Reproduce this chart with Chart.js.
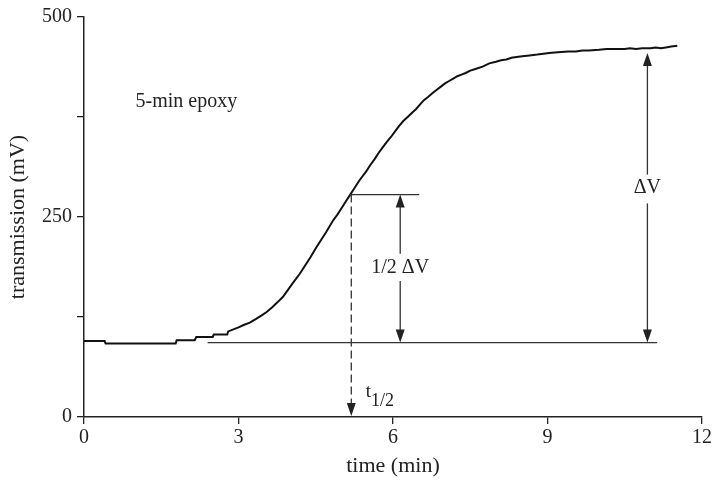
<!DOCTYPE html>
<html>
<head>
<meta charset="utf-8">
<script src="https://cdn.jsdelivr.net/npm/chart.js@4"></script>
<style>
  html, body { margin: 0; padding: 0; background: #fff; }
</style>
</head>
<body>
<canvas id="epoxy-curve" width="714" height="485"></canvas>
<script>
// time (min) and transmission (mV)
const timeMin = [
    0.00, 0.40, 0.42, 1.00, 1.78, 1.80, 2.15, 2.18, 2.50, 2.52,
    2.78, 2.80, 3.00, 3.10, 3.22, 3.35, 3.45, 3.54, 3.65, 3.75,
    3.86, 3.95, 4.05, 4.19, 4.30, 4.40, 4.51, 4.60, 4.70, 4.83,
    4.92, 5.00, 5.08, 5.16, 5.25, 5.35, 5.48, 5.56, 5.64, 5.72,
    5.80, 5.88, 5.96, 6.04, 6.12, 6.20, 6.30, 6.38, 6.45, 6.53,
    6.60, 6.68, 6.77, 6.85, 6.93, 7.01, 7.09, 7.17, 7.25, 7.33,
    7.41, 7.50, 7.60, 7.74, 7.87, 8.00, 8.10, 8.20, 8.30, 8.40,
    8.51, 8.65, 8.80, 8.92, 9.03, 9.20, 9.40, 9.55, 9.68, 9.80,
    10.00, 10.15, 10.32, 10.50, 10.60, 10.72, 10.84, 11.00, 11.10, 11.20,
    11.30, 11.40, 11.52
];
const transmission = [
    95, 95, 92, 92, 92, 96, 96, 100, 100, 103,
    103, 107, 112, 115, 118, 123, 127, 131, 137, 143,
    150, 158, 167, 179, 190, 200, 212, 221, 231, 245,
    253, 261, 269, 277, 286, 296, 307, 315, 322, 330,
    337, 344, 350, 357, 364, 370, 376, 381, 385, 391,
    396, 400, 405, 409, 413, 417, 420, 423, 426, 428,
    430, 433, 435, 438, 442, 444, 446, 447, 449, 450,
    451, 452, 453, 454, 455, 456, 457, 457, 458, 458,
    459, 460, 460, 460, 461, 460, 461, 461, 462, 461,
    462, 463, 464
];
const xTicks = [0, 3, 6, 9, 12];
const yTickLabels = [0, 250, 500];

// annotation positions, in data units
const baseLevel = 93;
const halfLevel = 278;
const dvTop = 455;
const tHalf = 5.19;
const baseLineFrom = 2.4;
const baseLineTo = 11.13;
const halfLineTo = 6.51;
const halfArrowX = 6.14;
const dvArrowX = 10.94;

const serif = "'Liberation Serif', 'Times New Roman', serif";

function arrowHead(ctx, x, y, dir) {
    // dir 1 = points down, -1 = points up
    ctx.beginPath();
    ctx.moveTo(x, y);
    ctx.lineTo(x - 4.5, y - dir * 13);
    ctx.lineTo(x + 4.5, y - dir * 13);
    ctx.closePath();
    ctx.fill();
}

function line(ctx, x1, y1, x2, y2) {
    ctx.beginPath();
    ctx.moveTo(x1, y1);
    ctx.lineTo(x2, y2);
    ctx.stroke();
}

const annotations = {
    id: "annotations",
    afterDatasetsDraw(chart) {
        const ctx = chart.ctx;
        const xs = chart.scales.x;
        const ys = chart.scales.y;
        const px = v => xs.getPixelForValue(v);
        const py = v => ys.getPixelForValue(v);

        ctx.save();
        ctx.strokeStyle = "#333";
        ctx.fillStyle = "#222";
        ctx.lineWidth = 1.3;

        // baseline and half level
        line(ctx, px(baseLineFrom), py(baseLevel), px(baseLineTo), py(baseLevel));
        line(ctx, px(tHalf) - 2, py(halfLevel), px(halfLineTo), py(halfLevel));

        // dashed drop to the time axis
        ctx.setLineDash([8, 4]);
        line(ctx, px(tHalf), py(halfLevel), px(tHalf), py(0) - 12);
        ctx.setLineDash([]);
        arrowHead(ctx, px(tHalf), py(0) - 1, 1);

        // 1/2 dV arrow
        line(ctx, px(halfArrowX), py(halfLevel) + 10, px(halfArrowX), py(204));
        line(ctx, px(halfArrowX), py(170), px(halfArrowX), py(baseLevel) - 10);
        arrowHead(ctx, px(halfArrowX), py(halfLevel), -1);
        arrowHead(ctx, px(halfArrowX), py(baseLevel), 1);

        // dV arrow
        line(ctx, px(dvArrowX), py(dvTop) + 10, px(dvArrowX), py(303));
        line(ctx, px(dvArrowX), py(267), px(dvArrowX), py(baseLevel) - 10);
        arrowHead(ctx, px(dvArrowX), py(dvTop), -1);
        arrowHead(ctx, px(dvArrowX), py(baseLevel), 1);

        // texts
        ctx.font = "20px " + serif;
        ctx.textBaseline = "middle";
        ctx.textAlign = "center";
        ctx.fillText("1/2 \u0394V", px(halfArrowX), py(186));
        ctx.fillText("\u0394V", px(dvArrowX), py(286));
        ctx.textAlign = "left";
        ctx.fillText("5-min epoxy", px(1.0), py(394));

        ctx.textBaseline = "alphabetic";
        ctx.font = "19px " + serif;
        const tx = px(5.47);
        ctx.fillText("t", tx, py(25));
        const tw = ctx.measureText("t").width;
        ctx.font = "18px " + serif;
        ctx.fillText("1/2", tx + tw, py(13.5));
        ctx.restore();
    }
};

const dataEpoxy = {
    datasets: [
        {
            data: timeMin.map((t, i) => ({ x: t, y: transmission[i] })),
            borderColor: "#111",
            borderWidth: 2,
            pointRadius: 0,
            tension: 0,
            fill: false,
        },
    ],
};

const configEpoxy = {
    type: "line",
    data: dataEpoxy,
    options: {
        responsive: false,
        animation: false,
        layout: {
            padding: { left: 0, right: 11, top: 16, bottom: 0 },
        },
        scales: {
            x: {
                type: "linear",
                min: 0,
                max: 12,
                afterBuildTicks: scale => {
                    scale.ticks = xTicks.map(v => ({ value: v }));
                },
                afterFit: scale => {
                    scale.height = 68;
                },
                ticks: {
                    color: "#222",
                    font: { family: serif, size: 20 },
                    padding: 2,
                    maxRotation: 0,
                },
                grid: {
                    drawOnChartArea: false,
                    drawTicks: true,
                    tickLength: 7,
                    color: "#222",
                    lineWidth: 1.3,
                },
                border: { display: true, color: "#222", width: 1.5 },
                title: {
                    display: true,
                    text: "time (min)",
                    color: "#222",
                    font: { family: serif, size: 22 },
                    padding: { top: 0, bottom: 6 },
                },
            },
            y: {
                min: 0,
                max: 500,
                ticks: {
                    stepSize: 125,
                    color: "#222",
                    font: { family: serif, size: 20 },
                    padding: 5,
                    callback: function (value) {
                        // only 0, 250 and 500 carry a label
                        return yTickLabels.includes(value) ? value : "";
                    },
                },
                afterFit: scale => {
                    scale.width = 84;
                },
                grid: {
                    drawOnChartArea: false,
                    drawTicks: true,
                    tickLength: 7,
                    color: "#222",
                    lineWidth: 1.3,
                },
                border: { display: true, color: "#222", width: 1.5 },
                title: {
                    display: true,
                    text: "transmission (mV)",
                    color: "#222",
                    font: { family: serif, size: 22 },
                    padding: { top: 5, bottom: 0 },
                },
            },
        },
        plugins: {
            legend: { display: false },
            tooltip: { enabled: false },
        },
    },
    plugins: [annotations],
};

new Chart(document.getElementById("epoxy-curve"), configEpoxy);
</script>
</body>
</html>
